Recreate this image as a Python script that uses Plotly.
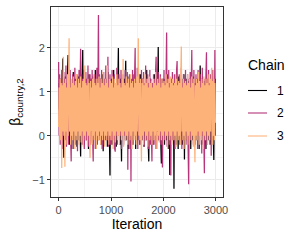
import plotly.graph_objects as go

thin = 10  # iterations between stored draws
chain1 = [0.6, 1.2, 0.1, 1.3, 0.0, 1.1, -0.2, 1.25, 1.76, 0.2, -0.5, 1.0, 0.3, 1.35, -0.1, 1.2, 0.2, 1.4, 1.84, 0.0,
          1.1, -0.2, 1.3, 0.1, 1.0, -0.3, 1.2, 0.2, 1.45, 0.0, 1.1, -0.1, 1.3, 0.3, 0.9, -0.25, 1.2, 0.1, 1.35, -0.1,
          1.2, 0.2, -0.47, 1.1, 0.0, 1.4, 1.95, 0.1, 1.2, -0.2, 1.3, 0.3, 1.0, -0.1, 1.25, 0.0, 1.1, -0.3, 1.4, 0.2,
          1.2, -0.15, 1.3, 0.1, 1.0, -0.2, 1.35, 0.2, 1.1, 0.0, 1.5, -0.3, 1.2, 0.1, 1.3, -0.1, 1.0, 0.25, 1.2, 0.0,
          1.3, -0.2, 1.1, 0.1, 1.4, -0.35, 1.2, 0.2, 1.0, -0.1, 1.3, 0.0, 1.2, -0.25, 1.45, 0.1, 1.1, -0.1, -0.9, 1.2,
          0.0, 1.3, -0.2, 1.1, 0.2, 1.5, -0.1, 1.2, 0.3, 1.0, -0.25, 1.3, 0.1, 1.2, 2.0, 0.0, 1.1, -0.2, 1.3, 0.1,
          -0.58, 1.2, 0.1, 1.0, -0.1, 1.3, 0.2, 1.1, 1.71, -0.1, 1.2, 0.0, 1.35, -0.3, 1.1, 0.2, 1.25, -0.1, 1.0, 0.1,
          1.3, -0.2, 1.2, 0.1, 1.4, 0.0, 1.1, -0.3, 1.25, 0.2, 1.0, -0.1, 1.3, 0.0, 1.2, -0.2, 1.4, 0.1, 1.1, -0.1,
          1.3, 0.2, 1.0, -0.25, 1.2, 0.0, 1.3, -0.1, 1.5, 0.1, 1.1, -0.2, -0.58, 1.2, 0.1, 1.3, -0.1, 1.0, 0.2, 1.2,
          -0.2, 1.1, 0.3, 1.4, 0.0, 1.2, -0.3, 1.3, 0.1, 1.0, 2.02, -0.1, 1.2, 0.2, 1.1, -0.2, -0.63, 1.3, 0.0, 1.1,
          0.2, 1.3, -0.2, 1.2, 0.1, 1.0, -0.1, 1.4, 0.0, 1.2, -0.3, 1.1, -0.89, 1.0, 0.3, 1.2, -0.1, 1.3, 0.1, 1.1,
          -1.2, 1.1, 0.0, 1.3, -0.2, 1.2, 0.1, 1.0, -0.3, 1.35, 0.2, 1.1, -0.1, 1.2, 0.0, 1.3, -0.2, 1.1, 0.1, 1.4,
          -0.54, 1.2, 0.1, 1.3, -0.1, 1.0, 0.2, 1.25, -0.2, 1.1, 0.0, 1.3, -0.3, 1.2, 0.1, 1.0, -0.1, 1.35, 0.2, 1.1,
          -0.2, 1.2, 0.0, 1.3, -0.1, 1.1, 0.2, 1.2, -0.3, 1.0, 1.6, 0.1, 1.2, -0.2, 1.3, 0.0, 1.1, -0.1, 1.25, 0.2,
          1.0, -0.3, 1.2, 0.1, 1.3, -0.1, 1.1, 0.0, 1.2, -0.2, 1.0, 0.2, 1.3, -0.1, 1.2, 0.0, -0.55, 1.1, 0.2, 1.3]
chain2 = [1.68, 0.0, 1.4, -0.2, 1.3, 0.1, 1.5, -0.3, 1.2, 0.2, 1.45, -0.1, 1.3, 0.0, 1.6, -0.25, 1.2, 0.1, 1.4, -0.2,
          1.3, 0.1, 1.5, -0.1, -0.58, 1.2, 0.0, 1.4, -0.3, 1.3, 0.2, 1.55, -0.2, 1.2, 0.0, 1.4, -0.35, 1.3, 0.1, 1.5,
          -0.1, 1.2, 1.98, 0.0, 1.4, -0.2, 1.3, 0.1, 1.5, -0.3, 1.2, 0.0, 1.45, -0.1, 1.3, 0.2, 1.6, -0.25, 1.2, 0.0,
          1.4, -0.2, 1.3, 0.1, 1.5, -0.1, -0.58, 1.2, 0.0, 1.4, -0.3, 1.3, 0.2, 1.55, -0.2, 1.2, 2.75, 0.0, 1.4, -0.1,
          1.3, 0.1, 1.5, -0.3, 1.2, 0.0, 1.45, -0.2, 1.3, 0.1, 1.6, -0.1, 1.2, 0.0, 1.8, -0.25, 1.3, 0.2, 1.4, -0.2,
          1.2, 0.0, 1.5, -0.1, 1.3, 0.1, 1.4, -0.3, -0.36, 1.2, 0.0, 1.55, -0.2, 1.3, 0.1, 1.4, -0.1, 1.2, 0.0, 1.5,
          -0.3, 1.3, 0.1, 1.4, -0.2, 1.2, 0.0, 1.5, -0.1, 1.3, 0.2, 1.45, -0.77, 1.2, 0.0, 1.4, -0.3, 1.3, -1.04, 1.2,
          0.1, 1.5, -0.2, 1.3, 0.0, 1.4, 2.0, -0.1, 1.2, 0.1, 1.55, -0.3, 1.3, 0.0, 1.4, -0.2, 1.2, 0.2, 1.5, -0.1,
          1.3, 0.0, 1.45, -0.25, 1.2, 0.1, 1.6, -0.1, 1.3, 0.0, 1.4, -0.3, 1.2, 0.2, 1.5, -0.2, 1.3, 0.0, -0.58, 1.2,
          0.1, 1.4, -0.2, 1.3, 0.0, 1.5, 1.8, -0.3, 1.2, 0.1, 1.45, -0.1, 1.3, 0.0, 1.4, -0.2, 1.2, 0.2, -0.72, 1.3,
          0.0, 1.5, -0.1, 1.2, 0.1, 1.4, 2.35, -0.25, 1.3, 0.0, 1.5, -0.2, 1.2, 0.1, -0.9, 1.3, 0.0, 1.45, -0.1, 1.2,
          0.2, 1.4, -0.3, 1.3, 0.0, 1.5, 1.7, -0.1, 1.2, 0.1, 1.4, -0.2, 1.3, 0.0, 1.55, -0.3, 1.2, 0.1, 1.4, -0.1,
          1.3, 0.0, 1.5, -0.2, 1.2, 0.1, 1.4, -0.3, -1.1, 1.3, 0.0, 1.45, -0.1, 1.2, 1.95, 0.2, 1.3, -0.2, 1.5, 0.0,
          1.2, -0.1, 1.4, 0.1, 1.3, -0.3, 1.5, 0.0, 1.2, -0.2, 1.4, 0.1, 1.3, -0.4, 1.55, 0.0, 1.2, -0.1, -0.85, 1.3,
          0.1, 1.4, 1.9, -0.2, 1.3, 0.0, 1.5, -0.1, 1.2, 0.1, 1.4, -0.45, 1.3, 0.0, 1.5, -0.2, 1.2, 0.1, 1.95, 0.0]
chain3 = [0.2, 1.1, 0.0, 1.3, -0.1, 1.2, -0.73, 1.15, 0.1, 1.8, 0.0, 1.2, -0.7, 1.3, 0.1, 1.1, -0.2, 1.4, 0.0, 1.2,
          2.22, 0.1, 1.1, -0.2, 1.3, 0.0, 1.2, -0.1, 1.35, 0.1, 1.15, -0.3, 1.25, 0.0, 1.4, -0.1, 1.1, 0.1, 1.3, -0.2,
          1.2, 0.0, 1.35, -0.15, 1.1, 0.1, 1.25, -0.25, 1.3, 0.0, 1.6, -0.1, 1.2, 0.1, 1.15, -0.2, 1.3, 0.0, 1.2, -0.1,
          -0.5, 1.25, 0.1, 1.1, -0.2, 1.3, 0.0, 1.4, -0.1, 1.2, 0.1, 1.15, -0.3, 1.3, 0.0, 1.2, -0.1, 1.35, 0.1, 1.1,
          -0.2, 1.3, 0.0, 1.2, -0.1, 1.45, 0.1, 1.15, -0.25, 1.3, 0.0, 1.2, -0.1, 1.6, 0.1, 1.1, -0.2, 1.3, 0.0, 1.25,
          -0.1, 1.2, 0.1, 1.35, -0.3, 1.1, 0.0, 1.3, -0.15, 1.2, 0.1, 1.4, -0.1, 1.15, 0.0, 1.3, -0.2, 1.2, 0.1, 1.1,
          -0.1, 1.3, 0.0, 1.75, -0.25, 1.2, 0.1, 1.15, -0.1, 1.35, 0.0, 1.2, -0.2, 1.3, 0.1, 1.1, -0.1, 1.4, 0.0, 1.2,
          -0.3, 1.25, 0.1, 1.1, -0.1, 1.3, 0.0, 1.2, -0.2, 1.35, 0.1, 1.15, 2.22, 0.0, 1.2, -0.1, 1.3, 0.1, -0.58, 1.2,
          0.0, 1.3, -0.2, 1.15, 0.1, 1.4, -0.1, 1.2, 0.0, 1.3, -0.25, 1.1, 0.1, 1.35, -0.1, 1.2, 0.0, 1.25, -0.2, 1.1,
          0.1, 1.3, -0.1, 1.2, 0.0, 1.45, -0.3, 1.15, 0.1, 1.3, 0.0, 1.2, -0.15, 1.35, 0.1, 1.1, -0.1, 1.3, 0.0, 1.2,
          -0.2, 1.25, 0.1, 1.15, -0.1, 1.4, 0.0, 1.2, -0.3, 1.3, 0.1, 1.1, -0.1, 1.35, 0.0, 1.2, -0.2, 1.3, 0.1, 1.15,
          -0.1, 1.2, 0.0, 1.4, -0.25, 1.3, 0.1, 1.15, -0.1, 1.25, 0.0, 1.2, -0.2, 1.35, 2.03, 0.1, 1.1, -0.1, 1.3, 0.0,
          1.2, -0.3, 1.25, 0.1, 1.15, -0.1, 1.4, 0.0, 1.2, -0.2, 1.3, 0.1, 1.1, -0.1, 1.35, 0.0, 1.2, -0.25, 1.3, 0.1,
          -0.6, 1.15, 0.0, 1.3, -0.1, 1.2, 0.1, 1.45, -0.2, 1.25, 0.0, 1.1, -0.1, 1.3, 0.1, 1.2, -0.3, 1.35, 0.0, 1.15,
          -0.1, 1.3, 0.1, 1.2, -0.2, 1.4, 0.0, 1.15, -0.1, 1.3, 0.1, 1.2, 1.55, -0.2, 1.25, 0.0, 1.3, -0.1, 1.2, 0.3]
chains = ["1", "2", "3"]
colors = ["#000004", "#B63679", "#FDB27A"]
x_ticks = [0, 1000, 2000, 3000]
y_ticks = [-1, 0, 1, 2]

fig = go.Figure()
for name, vals, col in zip(chains, [chain1, chain2, chain3], colors):
    iters = [i * thin for i in range(len(vals))]
    fig.add_trace(go.Scatter(x=iters, y=vals, mode="lines", name=name,
                             showlegend=False,
                             line=dict(color=col, width=1.25, simplify=False)))

axis_common = dict(showgrid=True, gridcolor="#EBEBEB", gridwidth=1,
                   zeroline=False, showline=True, mirror=True, automargin=False,
                   linecolor="#333333", linewidth=1,
                   ticks="outside", ticklen=3, tickcolor="#333333",
                   tickfont=dict(size=11, color="#4D4D4D"))
fig.update_xaxes(range=[-145, 3135], tickvals=x_ticks,
                 title=dict(text="Iteration", font=dict(size=14, color="black"), standoff=3),
                 minor=dict(showgrid=True, gridcolor="#F3F3F3", gridwidth=0.5, dtick=500, tick0=0),
                 **axis_common)
fig.update_yaxes(range=[-1.39, 2.93], tickvals=y_ticks,
                 title=dict(text="β<sub>country,2</sub>", font=dict(size=14, color="black"), standoff=8),
                 minor=dict(showgrid=True, gridcolor="#F3F3F3", gridwidth=0.5, dtick=0.5, tick0=0),
                 **axis_common)

# legend (drawn in paper coordinates, right of the panel)
PW, PH, L, T = 172.0, 190.0, 51.0, 7.0
def px(xp):
    return (xp - L) / PW
def py(yp):
    return (T + PH - yp) / PH

annotations = [dict(text="Chain", x=px(246), y=py(65), xref="paper", yref="paper",
                    xanchor="left", yanchor="middle", showarrow=False,
                    font=dict(size=14, color="black"))]
shapes = []
for k, (name, col) in enumerate(zip(chains, colors)):
    yk = [90.5, 113.0, 136.0][k]
    shapes.append(dict(type="line", xref="paper", yref="paper",
                       x0=px(248), x1=px(267), y0=py(yk), y1=py(yk),
                       line=dict(color=col, width=1.1)))
    annotations.append(dict(text=name, x=px(275), y=py(yk), xref="paper", yref="paper",
                            xanchor="left", yanchor="middle", showarrow=False,
                            font=dict(size=12, color="black")))

fig.update_layout(width=299, height=241,
                  margin=dict(l=51, r=76, t=7, b=44),
                  paper_bgcolor="white", plot_bgcolor="white",
                  font=dict(family="Liberation Sans, Arial, sans-serif"),
                  annotations=annotations, shapes=shapes, showlegend=False)
fig.write_html("out.html", config={"displayModeBar": False},
               post_script="document.body.style.margin='0px';")
